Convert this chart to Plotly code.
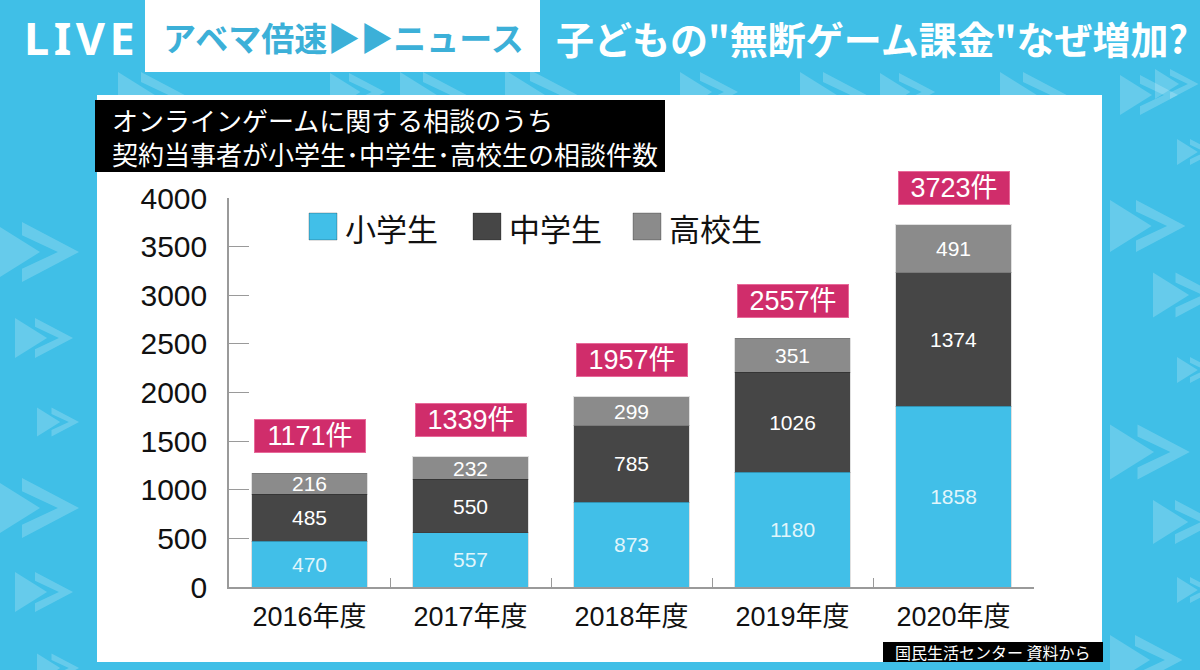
import plotly.graph_objects as go

years = ["2016年度", "2017年度", "2018年度", "2019年度", "2020年度"]
elementary = [470, 557, 873, 1180, 1858]
junior_high = [485, 550, 785, 1026, 1374]
high_school = [216, 232, 299, 351, 491]
totals = [1171, 1339, 1957, 2557, 3723]
series_names = ["小学生", "中学生", "高校生"]
series_colors = ["#41bfe8", "#464646", "#8b8b8b"]
y_ticks = [0, 500, 1000, 1500, 2000, 2500, 3000, 3500, 4000]

W, H = 1200, 670
L, R, T, B = 229, 1034, 198, 587

def X(px):
    return (px - L) / (R - L)

def Y(py):
    return (B - py) / (B - T)

NUM = "Liberation Sans, Arial, Noto Sans CJK JP, sans-serif"
JP = "Noto Sans CJK JP, sans-serif"

fig = go.Figure()
for name, vals, col, tcol in zip(series_names, [elementary, junior_high, high_school], series_colors,
                                  ["rgba(255,255,255,0.85)", "white", "white"]):
    fig.add_trace(go.Bar(
        x=years, y=vals, name=name,
        marker=dict(color=col, line=dict(color="rgba(0,0,0,0.12)", width=1)),
        texttemplate="%{y}", textposition="inside", insidetextanchor="middle",
        constraintext="none", textangle=0,
        textfont=dict(family=NUM, size=21, color=tcol),
        showlegend=False, hoverinfo="skip",
    ))

shapes = []
annotations = []

# background arrows (decoration)
def arrow(x0, cy, h):
    fill = "rgba(255,255,255,0.2)"
    tri = f"M{X(x0)},{Y(cy-h/2)} L{X(x0+0.8*h)},{Y(cy)} L{X(x0)},{Y(cy+h/2)} Z"
    a = x0 + 0.5 * h
    t = 0.22 * h
    chev = (f"M{X(a)},{Y(cy-h/2)} L{X(a+0.95*h)},{Y(cy)} L{X(a)},{Y(cy+h/2)} "
            f"L{X(a)},{Y(cy+h/2-t)} L{X(a+0.95*h-1.6*t)},{Y(cy)} L{X(a)},{Y(cy-h/2+t)} Z")
    for p in (tri, chev):
        shapes.append(dict(type="path", path=p, xref="paper", yref="paper",
                           fillcolor=fill, line=dict(width=0), layer="below"))

for (x0, cy, h) in [(-8, 252, 60), (15, 338, 40), (37, 422, 29), (-8, 508, 60), (15, 592, 40),
                    (37, 668, 29),
                    (1155, 84, 30), (1177, 152, 26), (1110, 226, 52), (1153, 295, 45),
                    (1177, 370, 26), (1110, 452, 55), (1153, 522, 44), (1177, 590, 26),
                    (1110, 660, 50),
                    (118, 95, 46), (330, 92, 38), (400, 95, 46), (505, 95, 50),
                    (680, 92, 40), (800, 95, 46), (880, 92, 38), (1000, 95, 46), (1120, 95, 40)]:
    arrow(x0, cy, h)

def rect(x0, y0, x1, y1, color, layer="below"):
    shapes.append(dict(type="rect", xref="paper", yref="paper",
                       x0=X(x0), x1=X(x1), y0=Y(y1), y1=Y(y0),
                       fillcolor=color, line=dict(width=0), layer=layer))

def text(px, py, s, size, color, family=JP, anchor="center", bold=False, align="center"):
    if bold:
        s = f"<b>{s}</b>"
    annotations.append(dict(xref="paper", yref="paper", x=X(px), y=Y(py), text=s,
                            showarrow=False, xanchor=anchor, yanchor="middle", align=align,
                            font=dict(family=family, size=size, color=color)))

# white panel
rect(97, 95, 1102, 662, "white")
# header box
rect(145, 0, 540, 72, "white")
text(79, 37, "L\u200aI\u200aV\u200aE", 45, "white", family="Noto Sans, Liberation Sans, sans-serif", bold=True)
text(343, 37, "アベマ倍速▶▶ニュース", 33, "#3cb0d8", bold=True)
text(872, 37, "子どもの\"無断ゲーム課金\"なぜ増加?", 38, "white", bold=True)

# chart title
rect(95, 100, 665, 172, "black")
text(110, 137, "オンラインゲームに関する相談のうち<br>契約当事者が小学生･中学生･高校生の相談件数",
     26, "white", anchor="left", align="left")

# source
rect(883, 642, 1103, 662, "black", layer="above")
text(993, 652, "国民生活センター 資料から", 16, "white")

# custom legend
for name, col, sx in zip(series_names, series_colors, [309, 473, 633]):
    shapes.append(dict(type="rect", xref="paper", yref="paper",
                       x0=X(sx), x1=X(sx + 28), y0=Y(240), y1=Y(213),
                       fillcolor=col, line=dict(color="rgba(0,0,0,0.25)", width=1), layer="above"))
    text(sx + 34, 227, name, 31, "#111111", anchor="left")

# total labels
for yr, tot in zip(years, totals):
    annotations.append(dict(x=yr, y=tot, xref="x", yref="y", text=f"{tot}件",
                            showarrow=False, yanchor="bottom", yshift=20,
                            bgcolor="#d02d6b", bordercolor="#e86a9a", borderwidth=1,
                            width=108, height=30,
                            font=dict(family=NUM, size=27, color="white")))

fig.update_layout(
    width=W, height=H,
    margin=dict(l=L, r=W - R, t=T, b=H - B, pad=0),
    paper_bgcolor="#40bfe7", plot_bgcolor="rgba(0,0,0,0)",
    barmode="stack", bargap=0.28,
    shapes=shapes, annotations=annotations,
    xaxis=dict(showline=True, linecolor="#9a9a9a", linewidth=1.5, ticks="inside", tickson="boundaries",
               ticklen=9, tickcolor="#9a9a9a", tickwidth=1.2, showgrid=False,
               tickfont=dict(family=NUM, size=27, color="#111111"), ticklabelstandoff=5,
               range=[-0.5, 4.5]),
    yaxis=dict(range=[0, 4000], tickvals=y_ticks, showline=True, linecolor="#9a9a9a", linewidth=1.5,
               ticks="inside", ticklen=20, tickcolor="#9a9a9a", tickwidth=1.2, showgrid=False,
               zeroline=False, tickfont=dict(family=NUM, size=30, color="#111111"),
               ticklabelstandoff=14),
)

fig.write_html("out.html")
